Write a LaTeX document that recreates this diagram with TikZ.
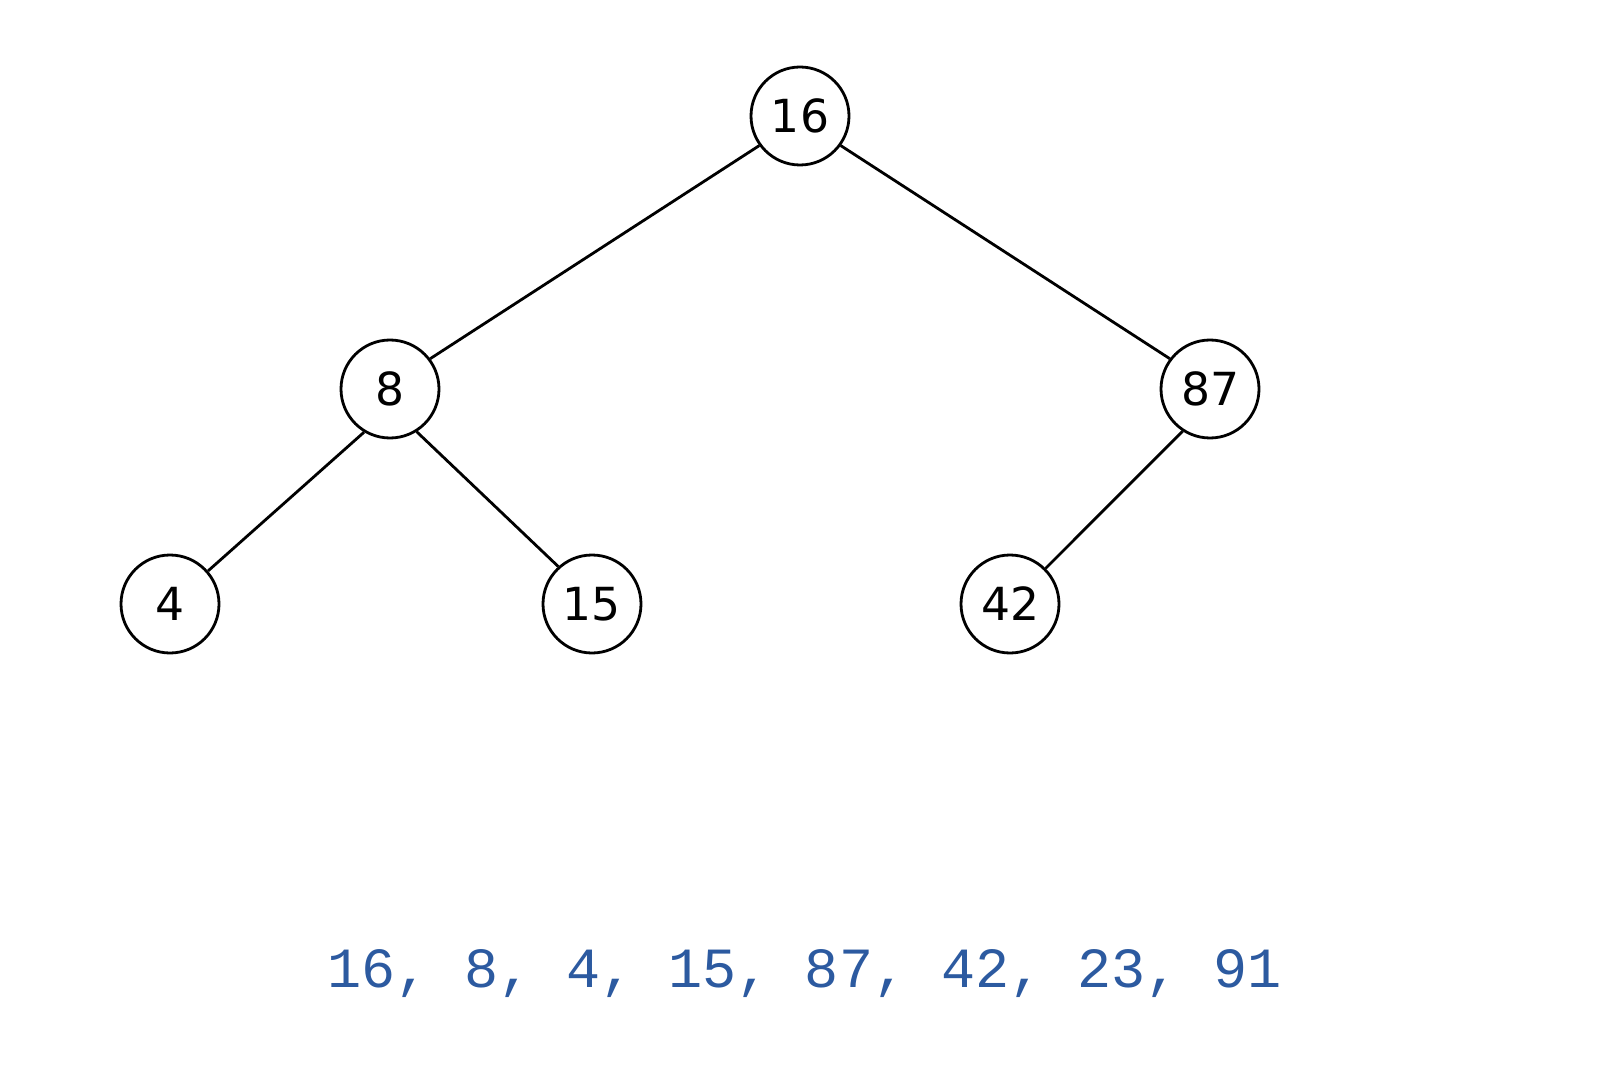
\documentclass[tikz,border=0pt]{standalone}
\usepackage{xcolor}
\usepackage{fontspec}
\usepackage{tikz}
\usetikzlibrary{positioning}
\newfontfamily\keyfont{DejaVu Sans}
\newfontfamily\seqfont{Liberation Mono}
\definecolor{seqblue}{RGB}{44,90,160}
\tikzstyle{treenode} = [circle, draw, line width=1.4pt, fill=white, inner sep=0pt,
    minimum size=49pt, font=\keyfont\fontsize{22.8}{22.8}\selectfont]
\tikzstyle{line} = [draw, line width=1.4pt]
\tikzstyle{sequence} = [text=seqblue, font=\seqfont\fontsize{28.4}{28.4}\selectfont]
\begin{document}
\begin{tikzpicture}[on grid, auto]
      \useasboundingbox (0,0) rectangle (800pt,-540pt);
      % Tree
      \node [treenode] (n16) at (400pt,-58pt) {16};
      \node [treenode, below left=136.5pt and 205pt of n16] (n8) {8};
      \node [treenode, below right=136.5pt and 205pt of n16] (n87) {87};
      \node [treenode, below left=107.5pt and 110pt of n8] (n4) {4};
      \node [treenode, below right=107.5pt and 101pt of n8] (n15) {15};
      \node [treenode, below left=107.5pt and 100pt of n87] (n42) {42};
      % Insertion order
      \node [sequence] (order) at (402.5pt,-487pt) {16, 8, 4, 15, 87, 42, 23, 91};
      % Draw edges
      \path [line] (n16.-144) -- (n8.37);
      \path [line] (n16.-36) -- (n87.143);
      \path [line] (n8.-121) -- (n4.41);
      \path [line] (n8.-58) -- (n15.132);
      \path [line] (n87.-123) -- (n42.45);
    \end{tikzpicture}
\end{document}
